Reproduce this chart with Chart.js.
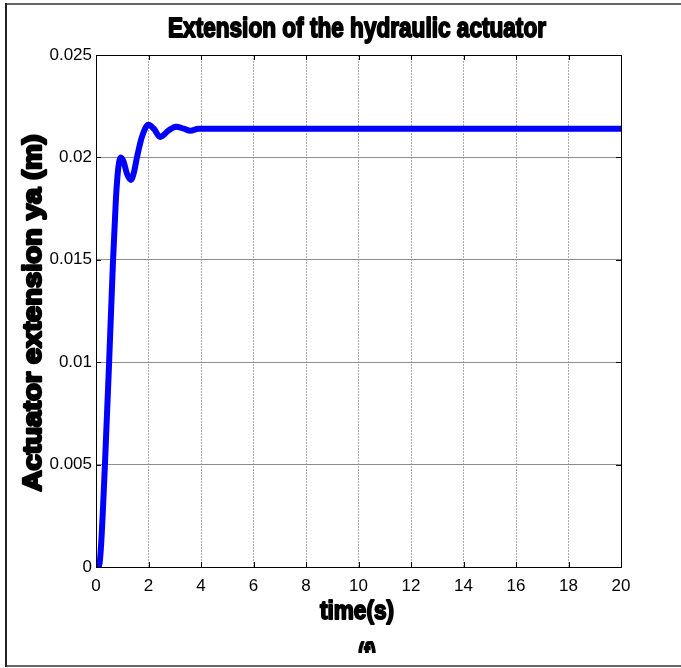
<!DOCTYPE html>
<html>
<head>
<meta charset="utf-8">
<script src="https://cdn.jsdelivr.net/npm/chart.js@4/dist/chart.umd.min.js"></script>
<style>
  html, body { margin: 0; padding: 0; background: #fff; }
  canvas { display: block; }
</style>
</head>
<body>
<canvas id="actuatorChart" width="681" height="668"></canvas>
<script>
// step response of the actuator extension (s, m)
const timeSec = [0, 0.1, 0.18, 0.34, 0.5, 0.65, 0.76, 0.85, 0.95, 1.05, 1.18, 1.33, 1.45, 1.56, 1.75,
  2.0, 2.2, 2.45, 2.75, 3.05, 3.35, 3.6, 3.9, 4.2, 6, 8, 10, 12, 14, 16, 18, 20];
const extensionM = [0, 0, 0.0008, 0.005, 0.01, 0.015, 0.018, 0.0195, 0.0200, 0.0198, 0.0192, 0.0189, 0.0193, 0.0200, 0.0210,
  0.0216, 0.0214, 0.0210, 0.0213, 0.0215, 0.0214, 0.0213, 0.0214, 0.0214, 0.0214, 0.0214, 0.0214, 0.0214, 0.0214, 0.0214, 0.0214, 0.0214];

const xTicks = [0, 2, 4, 6, 8, 10, 12, 14, 16, 18, 20];
const xTickLabels = ['0', '2', '4', '6', '8', '10', '12', '14', '16', '18', '20'];
const yTicks = [0, 0.005, 0.01, 0.015, 0.02, 0.025];
const yTickLabels = ['0', '0.005', '0.01', '0.015', '0.02', '0.025'];

const titleText = 'Extension of the hydraulic actuator';
const xTitle = 'time(s)';
const yTitle = 'Actuator extension ya (m)';
const panelTag = '(f)';

const points = timeSec.map((t, i) => ({ x: t, y: extensionM[i] }));

// heavy condensed text: squeeze the string to a given width
function drawHeavy(ctx, text, x, y, width, size, rotate, weight) {
  ctx.save();
  ctx.translate(x, y);
  if (rotate) ctx.rotate(-Math.PI / 2);
  ctx.font = 'bold ' + size + 'px "Liberation Sans", Arial, sans-serif';
  const w = ctx.measureText(text).width;
  ctx.scale(width / w, 1);
  ctx.textAlign = 'center';
  ctx.textBaseline = 'alphabetic';
  ctx.fillStyle = '#000';
  ctx.strokeStyle = '#000';
  ctx.lineWidth = weight;
  ctx.lineJoin = 'round';
  ctx.fillText(text, 0, 0);
  ctx.strokeText(text, 0, 0);
  ctx.restore();
}

const frameAndLabels = {
  id: 'frameAndLabels',
  beforeDraw(chart) {
    const ctx = chart.ctx;
    ctx.save();
    ctx.fillStyle = '#fff';
    ctx.fillRect(0, 0, chart.width, chart.height);
    // outer figure border
    ctx.strokeStyle = '#666';
    ctx.lineWidth = 2;
    ctx.beginPath();
    ctx.moveTo(5, 4); ctx.lineTo(681, 4);
    ctx.moveTo(5, 666); ctx.lineTo(681, 666);
    ctx.stroke();
    ctx.strokeStyle = '#222';
    ctx.beginPath();
    ctx.moveTo(6, 3); ctx.lineTo(6, 667);
    ctx.stroke();
    ctx.restore();
  },
  afterDatasetsDraw(chart) {
    const ctx = chart.ctx;
    const a = chart.chartArea;
    const xs = chart.scales.x, ys = chart.scales.y;
    ctx.save();
    ctx.strokeStyle = '#000';
    ctx.lineWidth = 1;
    ctx.strokeRect(Math.round(a.left) + 0.5, Math.round(a.top) + 0.5,
      Math.round(a.right - a.left), Math.round(a.bottom - a.top));
    // inward tick marks on all four sides
    ctx.beginPath();
    xTicks.forEach(v => {
      const px = Math.round(xs.getPixelForValue(v)) + 0.5;
      ctx.moveTo(px, a.bottom); ctx.lineTo(px, a.bottom - 5);
      ctx.moveTo(px, a.top); ctx.lineTo(px, a.top + 5);
    });
    yTicks.forEach(v => {
      const py = Math.round(ys.getPixelForValue(v)) + 0.5;
      ctx.moveTo(a.left, py); ctx.lineTo(a.left + 5, py);
      ctx.moveTo(a.right, py); ctx.lineTo(a.right - 5, py);
    });
    ctx.stroke();
    ctx.restore();

    drawHeavy(ctx, titleText, 357, 37, 378, 27, false, 1.8);
    drawHeavy(ctx, yTitle, 41, 313, 357, 25, true, 2.4);
    drawHeavy(ctx, xTitle, 357, 619, 74, 25, false, 1.8);
    // panel tag, cut off at the bottom
    ctx.save();
    ctx.beginPath();
    ctx.rect(0, 0, chart.width, 653);
    ctx.clip();
    drawHeavy(ctx, panelTag, 367, 661, 18, 25, false, 1.8);
    ctx.restore();
  }
};

new Chart(document.getElementById('actuatorChart'), {
  type: 'line',
  data: {
    datasets: [{
      data: points,
      borderColor: '#0000ff',
      borderWidth: 6,
      pointRadius: 0,
      fill: false,
      cubicInterpolationMode: 'monotone',
      borderCapStyle: 'round',
      borderJoinStyle: 'round'
    }]
  },
  options: {
    responsive: false,
    animation: false,
    layout: { padding: { top: 55, right: 60, left: 0, bottom: 0 } },
    plugins: { legend: { display: false }, tooltip: { enabled: false }, title: { display: false } },
    scales: {
      x: {
        type: 'linear',
        min: 0,
        max: 20,
        afterBuildTicks: s => { s.ticks = xTicks.map(v => ({ value: v })); },
        afterFit: s => { s.height = 101; },
        ticks: {
          color: '#000',
          padding: 9,
          font: { family: '"Liberation Sans", Arial, sans-serif', size: 17 },
          callback: v => xTickLabels[xTicks.indexOf(v)]
        },
        grid: { color: '#aaa', lineWidth: 1, drawTicks: false },
        border: { display: true, color: '#000', width: 1, dash: [2, 1] }
      },
      y: {
        min: 0,
        max: 0.025,
        afterBuildTicks: s => { s.ticks = yTicks.map(v => ({ value: v })); },
        afterFit: s => { s.width = 96; },
        ticks: {
          color: '#000',
          padding: 4,
          font: { family: '"Liberation Sans", Arial, sans-serif', size: 17 },
          callback: v => yTickLabels[yTicks.findIndex(t => Math.abs(t - v) < 1e-9)]
        },
        grid: { color: '#8c8c8c', lineWidth: 1, drawTicks: false },
        border: { display: true, color: '#000', width: 1 }
      }
    }
  },
  plugins: [frameAndLabels]
});
</script>
</body>
</html>
